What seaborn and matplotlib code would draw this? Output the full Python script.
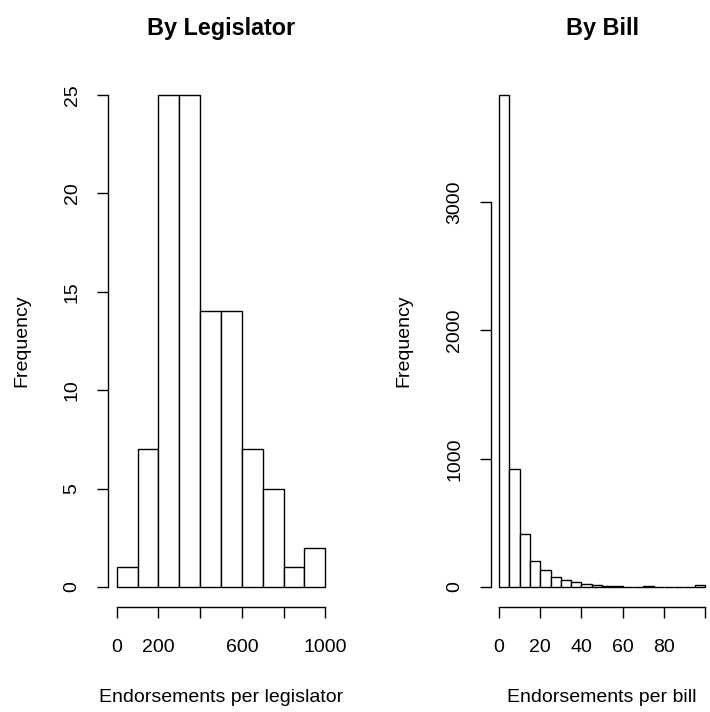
import numpy as np
import pandas as pd
import matplotlib
matplotlib.use("Agg")
import matplotlib.pyplot as plt
import seaborn as sns

# ---- data ----
leg_edges = [0, 100, 200, 300, 400, 500, 600, 700, 800, 900, 1000]
leg_counts = [1, 7, 25, 25, 14, 14, 7, 5, 1, 2]
bill_edges = list(range(0, 105, 5))
bill_counts = [3836, 920, 415, 200, 130, 82, 55, 38, 25, 15,
               9, 6, 4, 4, 5, 3, 3, 3, 2, 18]

leg_xticks = [0, 200, 400, 600, 800, 1000]
leg_xticklabels = ["0", "200", "", "600", "", "1000"]
leg_yticks = [0, 5, 10, 15, 20, 25]
bill_xticks = [0, 20, 40, 60, 80, 100]
bill_xticklabels = ["0", "20", "40", "60", "80", ""]
bill_yticks = [0, 1000, 2000, 3000]

titles = ["By Legislator", "By Bill"]
xlabels = ["Endorsements per legislator", "Endorsements per bill"]
ylabel = "Frequency"

sns.set_style("white")
plt.rcParams["font.family"] = ["Liberation Sans", "DejaVu Sans"]
plt.rcParams["text.color"] = "black"
plt.rcParams["xtick.color"] = "black"
plt.rcParams["ytick.color"] = "black"
plt.rcParams["axes.labelcolor"] = "black"

W, H = 710, 712
fig = plt.figure(figsize=(W / 100, H / 100), dpi=100)

def px_axes(x0, x1, y0, y1):
    return fig.add_axes([x0 / W, 1 - y1 / H, (x1 - x0) / W, (y1 - y0) / H])

top, bot = 75.3, 606.7
ax1 = px_axes(108.4, 333.6, top, bot)
ax2 = px_axes(490.8, 713.3, top, bot)

def draw(ax, edges, counts, xticks, xticklabels, yticks):
    e = [float(v) for v in edges]
    mids = [(a + b) / 2 for a, b in zip(e[:-1], e[1:])]
    df = pd.DataFrame({"x": mids, "w": [float(c) for c in counts]})
    sns.histplot(data=df, x="x", weights="w", bins=e, ax=ax,
                 color="white", edgecolor="black", linewidth=1.0, alpha=1)
    lo, hi = e[0], e[-1]
    pad = 0.04 * (hi - lo)
    ax.set_xlim(lo - pad, hi + pad)
    ymax = max(counts)
    ax.set_ylim(-0.04 * ymax, 1.04 * ymax)
    for s in ["top", "right"]:
        ax.spines[s].set_visible(False)
    ax.spines["left"].set_bounds(yticks[0], yticks[-1])
    ax.spines["bottom"].set_bounds(xticks[0], xticks[-1])
    for s in ["left", "bottom"]:
        ax.spines[s].set_linewidth(1.0)
        ax.spines[s].set_color("black")
    ax.set_xticks(xticks)
    ax.set_xticklabels(xticklabels)
    ax.set_yticks(yticks)
    ax.set_yticklabels([str(v) for v in yticks], rotation=90, va="center")
    ax.tick_params(axis="both", direction="out", length=8, width=1.0,
                   color="black", labelsize=14, labelcolor="black")
    ax.tick_params(axis="x", pad=15, bottom=True)
    ax.tick_params(axis="y", pad=12, left=True)
    ax.set_xlabel("")
    ax.set_ylabel("")
    ax.grid(False)

draw(ax1, leg_edges, leg_counts, leg_xticks, leg_xticklabels, leg_yticks)
draw(ax2, bill_edges, bill_counts, bill_xticks, bill_xticklabels, bill_yticks)

def ftext(x, y, s, **kw):
    fig.text(x / W, 1 - y / H, s, ha="center", va="center", color="black", **kw)

ftext(221, 28, titles[0], fontsize=16.8, fontweight="bold")
ftext(602, 28, titles[1], fontsize=16.8, fontweight="bold")
ftext(221, 697, xlabels[0], fontsize=14)
ftext(602, 697, xlabels[1], fontsize=14)
ftext(22, 341, ylabel, fontsize=14, rotation=90)
ftext(404, 341, ylabel, fontsize=14, rotation=90)

fig.savefig("out.png", dpi=100, facecolor="white")
